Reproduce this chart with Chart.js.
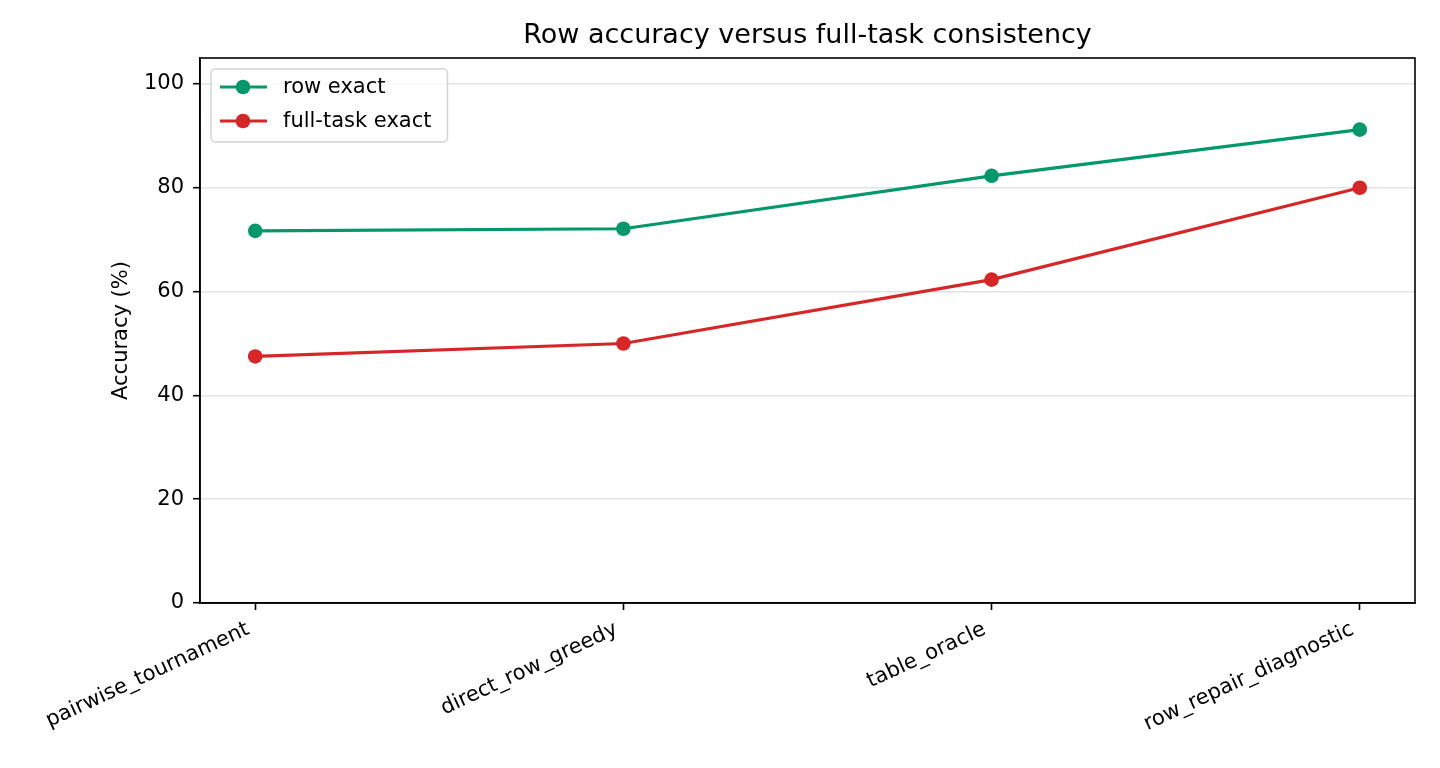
<!DOCTYPE html>
<html>
<head>
<meta charset="utf-8">
<script src="https://cdn.jsdelivr.net/npm/chart.js@4.4.0/dist/chart.umd.min.js"></script>
<style>
html, body { margin: 0; padding: 0; background: #fff; }
canvas { display: block; }
</style>
</head>
<body>
<canvas id="lineChart" width="1440" height="768"></canvas>
<script>
// data
const methods = ['pairwise_tournament', 'direct_row_greedy', 'table_oracle', 'row_repair_diagnostic'];
const rowExact = [71.7, 72.1, 82.3, 91.2];
const fullTaskExact = [47.5, 50.0, 62.3, 80.0];
const yTicks = [0, 20, 40, 60, 80, 100];
const chartTitle = 'Row accuracy versus full-task consistency';

const green = '#03976a';
const red = '#d62728';
const fontFamily = "'DejaVu Sans', sans-serif";

Chart.defaults.font.family = fontFamily;
Chart.defaults.font.size = 21;
Chart.defaults.color = '#000';

// title centred over the axes, top/right spines and the legend box inside the axes
const frameAndLegend = {
    id: 'frameAndLegend',
    afterDraw(chart) {
        const { ctx, chartArea: { left, top, right, bottom } } = chart;
        ctx.save();
        ctx.strokeStyle = '#000';
        ctx.lineWidth = 1.6;
        ctx.strokeRect(left, top, right - left, bottom - top);

        ctx.fillStyle = '#000';
        ctx.font = '27px ' + fontFamily;
        ctx.textAlign = 'center';
        ctx.textBaseline = 'middle';
        ctx.fillText(chartTitle, (left + right) / 2, top - 22);

        ctx.font = '21px ' + fontFamily;
        const sets = chart.data.datasets;
        let maxW = 0;
        sets.forEach(ds => { maxW = Math.max(maxW, ctx.measureText(ds.label).width); });
        const bx = left + 11, by = top + 11;
        const bw = 72 + maxW + 16, bh = 73;

        ctx.beginPath();
        ctx.roundRect(bx, by, bw, bh, 4);
        ctx.fillStyle = 'rgba(255,255,255,0.8)';
        ctx.fill();
        ctx.strokeStyle = '#d4d4d4';
        ctx.lineWidth = 1.5;
        ctx.stroke();

        sets.forEach((ds, i) => {
            const y = by + 18 + i * 34;
            ctx.strokeStyle = ds.borderColor;
            ctx.lineWidth = 3.2;
            ctx.beginPath();
            ctx.moveTo(bx + 9, y);
            ctx.lineTo(bx + 56, y);
            ctx.stroke();
            ctx.fillStyle = ds.borderColor;
            ctx.beginPath();
            ctx.arc(bx + 32, y, 7.3, 0, Math.PI * 2);
            ctx.fill();
            ctx.fillStyle = '#000';
            ctx.textBaseline = 'middle';
            ctx.textAlign = 'left';
            ctx.fillText(ds.label, bx + 72, y + 1);
        });
        ctx.restore();
    }
};

const ctx = document.getElementById('lineChart').getContext('2d');

const chart = new Chart(ctx, {
    type: 'line',
    data: {
        datasets: [{
            label: 'row exact',
            data: rowExact.map((v, i) => ({ x: i, y: v })),
            borderColor: green,
            backgroundColor: green,
            borderWidth: 3.2,
            pointRadius: 7.3,
            pointHoverRadius: 7.3,
            pointBorderWidth: 0,
            tension: 0
        }, {
            label: 'full-task exact',
            data: fullTaskExact.map((v, i) => ({ x: i, y: v })),
            borderColor: red,
            backgroundColor: red,
            borderWidth: 3.2,
            pointRadius: 7.3,
            pointHoverRadius: 7.3,
            pointBorderWidth: 0,
            tension: 0
        }]
    },
    options: {
        responsive: false,
        devicePixelRatio: 1,
        animation: false,
        layout: {
            padding: { left: 100, right: 25, top: 58, bottom: 0 }
        },
        scales: {
            x: {
                type: 'linear',
                min: -0.15,
                max: 3.15,
                afterBuildTicks: scale => { scale.ticks = methods.map((m, i) => ({ value: i })); },
                afterFit: scale => { scale.height = 165; },
                ticks: {
                    autoSkip: false,
                    minRotation: 25,
                    maxRotation: 25,
                    padding: 7,
                    labelOffset: -7,
                    callback: value => methods[value]
                },
                grid: {
                    drawOnChartArea: false,
                    drawTicks: true,
                    tickLength: 7,
                    tickWidth: 1.6,
                    tickColor: '#000'
                },
                border: { color: '#000', width: 1.6 }
            },
            y: {
                min: 0,
                max: 105,
                afterBuildTicks: scale => { scale.ticks = yTicks.map(v => ({ value: v })); },
                afterFit: scale => { scale.width = 100; },
                ticks: { padding: 9 },
                grid: {
                    color: '#e2e2e2',
                    lineWidth: 1.4,
                    tickLength: 7,
                    tickWidth: 1.6,
                    tickColor: '#000'
                },
                border: { color: '#000', width: 1.6 },
                title: {
                    display: true,
                    text: 'Accuracy (%)',
                    font: { size: 21 },
                    padding: { top: 9, bottom: 0 }
                }
            }
        },
        plugins: {
            legend: { display: false },
            tooltip: { enabled: false },
            title: { display: false }
        }
    },
    plugins: [frameAndLegend]
});
</script>
</body>
</html>
